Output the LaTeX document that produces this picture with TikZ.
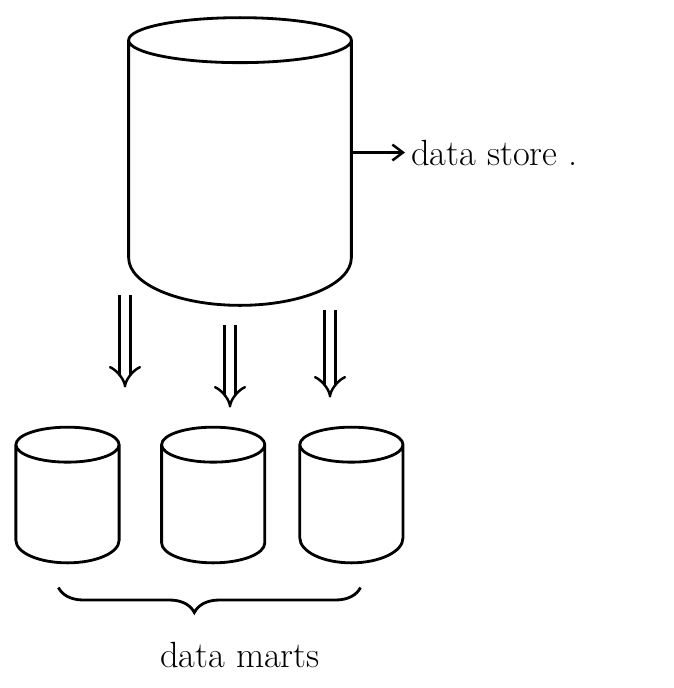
\documentclass[tikz,border=0pt]{standalone}
\usepackage{tikz}
\usetikzlibrary{arrows.meta, positioning, calc, decorations.pathreplacing}

\begin{document}
\begin{tikzpicture}[
    body/.style={inner sep=0pt},
    bigdb/.style={body, minimum width=4.44cm, minimum height=5.74cm},
    mart/.style={body, minimum width=2.05cm, minimum height=2.7cm},
    outline/.style={line width=1.6pt},
    flow/.style={double, double distance=5pt, line width=1.4pt, -{Implies[scale=1.5]}},
    >={Straight Barb[length=6pt, width=9pt]},
    font=\huge
]
    \useasboundingbox (0, 0) rectangle (13.48, -13.76);

    % 节点定义 (数据仓库与三个数据集市)
    \node[bigdb] (store) at (4.8, -3.23) {};          % 上方大圆柱
    \node[mart] (mart1) at (1.35, -9.9) {};           % 左
    \node[mart, right=0.85cm of mart1] (mart2) {};    % 中
    \node[mart, right=0.7cm of mart2] (mart3) {};     % 右

    % 圆柱外形 (名字/顶部半径/底部半径)
    \foreach \c/\rt/\rb in {store/0.45/0.95, mart1/0.35/0.45, mart2/0.35/0.4, mart3/0.35/0.5}
        \draw[outline] let \p1 = (\c.north west), \p2 = (\c.south east), \n1 = {(\x2-\x1)/2} in
            ([yshift=-\rt cm]\c.north) ellipse ({\n1} and {\rt cm})
            ([yshift=-\rt cm]\c.north west) -- ([yshift=\rb cm]\c.south west)
            arc[start angle=180, end angle=360, x radius=\n1, y radius=\rb cm]
            -- ([yshift=-\rt cm]\c.north east);

    % 文字
    \node[anchor=west] (storelbl) at (8.1, -3.05) {data store .};
    \node (martlbl) at (4.8, -13.1) {data marts};

    % 箭头端点
    \coordinate (a1s) at (2.5, -5.9);  \coordinate (a1e) at (2.5, -7.75);
    \coordinate (a2s) at (4.6, -6.5);  \coordinate (a2e) at (4.6, -8.15);
    \coordinate (a3s) at (6.6, -6.2);  \coordinate (a3e) at (6.6, -7.95);

    % 1. 指向标签的箭头
    \draw[->, line width=1.4pt] (store.east |- storelbl) -- (storelbl.west);

    % 2. 三个双线箭头
    \draw[flow] (a1s) -- (a1e);
    \draw[flow] (a2s) -- (a2e);
    \draw[flow] (a3s) -- (a3e);

    % 3. 数据集市下方的大括号
    \coordinate (bl) at ([xshift=0.85cm]mart1.south west |- 0, -11.75);
    \coordinate (br) at ([xshift=-0.85cm]mart3.south east |- 0, -11.75);
    \draw[outline, decoration={brace, mirror, amplitude=0.5cm, aspect=0.45}, decorate]
        (bl) -- (br);

\end{tikzpicture}
\end{document}
